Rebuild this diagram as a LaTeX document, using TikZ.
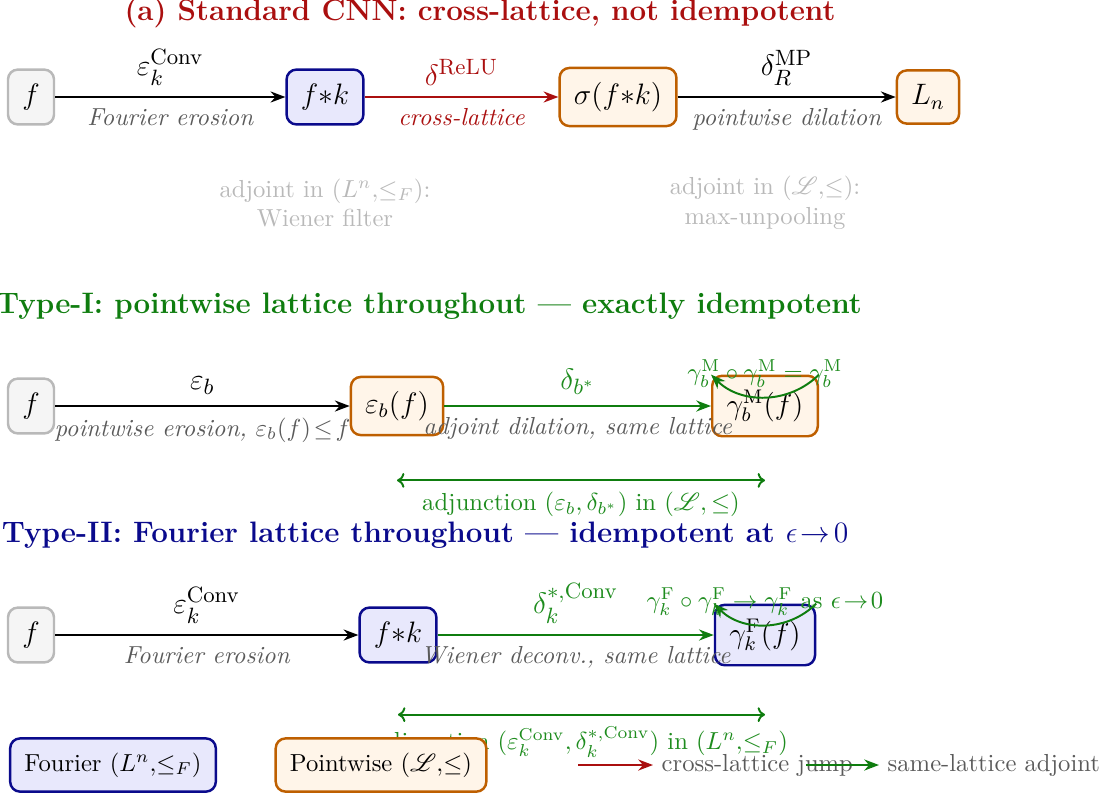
\documentclass[tikz,border=0pt]{standalone}
\usepackage{amsmath,amssymb}
\usepackage{mathrsfs}
\usetikzlibrary{arrows.meta}
\definecolor{cred}{RGB}{170,15,15}
\definecolor{cgreen}{RGB}{15,125,15}
\definecolor{lgreen}{RGB}{30,140,30}
\definecolor{cblue}{RGB}{10,10,140}
\definecolor{corange}{RGB}{190,95,0}
\definecolor{bfill}{RGB}{232,232,252}
\definecolor{ofill}{RGB}{255,245,233}
\definecolor{gfill}{RGB}{245,245,245}
\definecolor{gborder}{RGB}{185,185,185}
\definecolor{tgray}{RGB}{90,90,90}
\definecolor{lgray}{RGB}{185,185,185}
\begin{document}
\begin{tikzpicture}[x=0.406pt,y=-0.406pt,
  box/.style={draw, rounded corners=4pt, line width=1pt, inner sep=5.8pt, minimum height=21.5pt, font=\large},
  gbox/.style={box, draw=gborder, fill=gfill},
  fbox/.style={box, draw=cblue, fill=bfill},
  pbox/.style={box, draw=corange, fill=ofill},
  legbox/.style={draw, rounded corners=4pt, line width=1pt, inner sep=5.8pt, minimum height=21.5pt},
  arr/.style={-{Stealth[length=6pt,width=4.5pt]}, line width=0.8pt},
  adj/.style={{To[length=3pt,width=6pt]}-{To[length=3pt,width=6pt]}, line width=0.8pt, draw=cgreen},
  up/.style={above=1pt, font=\fontsize{13}{15}\selectfont},
  lo/.style={below=1pt, font=\itshape, text=tgray},
  loopl/.style={above=0pt, font=\normalsize, text=lgreen},
  ttl/.style={font=\large\bfseries},
  note/.style={align=center, text=lgray},
]
\useasboundingbox (0,0) rectangle (1108,795);

% ---------- (a) Standard CNN ----------
\node[ttl, text=cred] (t1) at (480,13) {(a) Standard CNN: cross-lattice, not idempotent};
\node[gbox] (f1) at (31,97) {$f$};
\node[fbox] (fk1) at (325,97) {$f{\ast}k$};
\node[pbox] (s1) at (618,97) {$\sigma(f{\ast}k)$};
\node[pbox] (Ln) at (928,97) {$L_n$};
\draw[arr] (f1) -- node[up]{$\varepsilon_k^{\mathrm{Conv}}$} node[lo]{Fourier erosion} (fk1);
\draw[arr, draw=cred] (fk1) -- node[up, text=cred]{$\delta^{\mathrm{ReLU}}$} node[lo, text=cred]{cross-lattice} (s1);
\draw[arr] (s1) -- node[up]{$\delta_R^{\mathrm{MP}}$} node[lo]{pointwise dilation} (Ln);
\node[note] (n1) at (325,203) {adjoint in $(L^n,\!\le_F)$:\\Wiener filter};
\node[note] (n2) at (765,203) {adjoint in $(\mathscr{L},\!\le)$:\\max-unpooling};

% ---------- Type-I ----------
\node[ttl, text=cgreen] (t2) at (429,306) {Type-I: pointwise lattice throughout --- exactly idempotent};
\node[gbox] (f2) at (31,406) {$f$};
\node[pbox] (e2) at (397,406) {$\varepsilon_b(f)$};
\node[pbox] (g2) at (765,406) {$\gamma_b^{\mathrm{M}}(f)$};
\draw[arr] (f2) -- node[up]{$\varepsilon_b$} node[lo]{pointwise erosion, $\varepsilon_b(f)\!\le\! f$} (e2);
\draw[arr, draw=cgreen] (e2) -- node[up, text=lgreen]{$\delta_{b^*}$} node[lo]{adjoint dilation, same lattice} (g2);
\draw[arr, draw=cgreen] (g2.north east) to[bend left=45] node[loopl]{$\gamma_b^{\mathrm{M}}\circ\gamma_b^{\mathrm{M}}=\gamma_b^{\mathrm{M}}$} (g2.north west);
\draw[adj] ([yshift=-17.9pt]e2.south) coordinate (a2l) -- (a2l -| g2.south)
  node[midway, below=1pt, text=lgreen]{adjunction $(\varepsilon_b,\delta_{b^*})$ in $(\mathscr{L},\le)$};

% ---------- Type-II ----------
\node[ttl, text=cblue] (t3) at (425,535) {Type-II: Fourier lattice throughout --- idempotent at $\epsilon\!\to\!0$};
\node[gbox] (f3) at (31,635) {$f$};
\node[fbox] (fk3) at (398,635) {$f{\ast}k$};
\node[fbox] (g3) at (765,635) {$\gamma_k^{\mathrm{F}}(f)$};
\draw[arr] (f3) -- node[up]{$\varepsilon_k^{\mathrm{Conv}}$} node[lo]{Fourier erosion} (fk3);
\draw[arr, draw=cgreen] (fk3) -- node[up, text=lgreen]{$\delta_k^{*,\mathrm{Conv}}$} node[lo]{Wiener deconv., same lattice} (g3);
\draw[arr, draw=cgreen] (g3.north east) to[bend left=45] node[loopl]{$\gamma_k^{\mathrm{F}}\circ\gamma_k^{\mathrm{F}}\to\gamma_k^{\mathrm{F}}$ as $\epsilon\!\to\!0$} (g3.north west);
\draw[adj] ([yshift=-20.7pt]fk3.south) coordinate (a3l) -- (a3l -| g3.south)
  node[midway, below=1pt, text=lgreen]{adjunction $(\varepsilon_k^{\mathrm{Conv}},\delta_k^{*,\mathrm{Conv}})$ in $(L^n,\!\le_F)$};

% ---------- legend ----------
\node[legbox, draw=cblue, fill=bfill] (lf) at (113,765) {Fourier $(L^n,\!\le_F)$};
\node[legbox, draw=corange, fill=ofill] (lp) at (381,765) {Pointwise $(\mathscr{L},\!\le)$};
\coordinate (lr) at (578,765);
\node[anchor=west, text=tgray] (lrt) at (653,765) {cross-lattice jump};
\draw[arr, draw=cred] (lr) -- (lrt.west);
\coordinate (lg) at (806,765);
\node[anchor=west, text=tgray] (lgt) at (879,765) {same-lattice adjoint};
\draw[arr, draw=cgreen] (lg) -- (lgt.west);
\end{tikzpicture}
\end{document}
